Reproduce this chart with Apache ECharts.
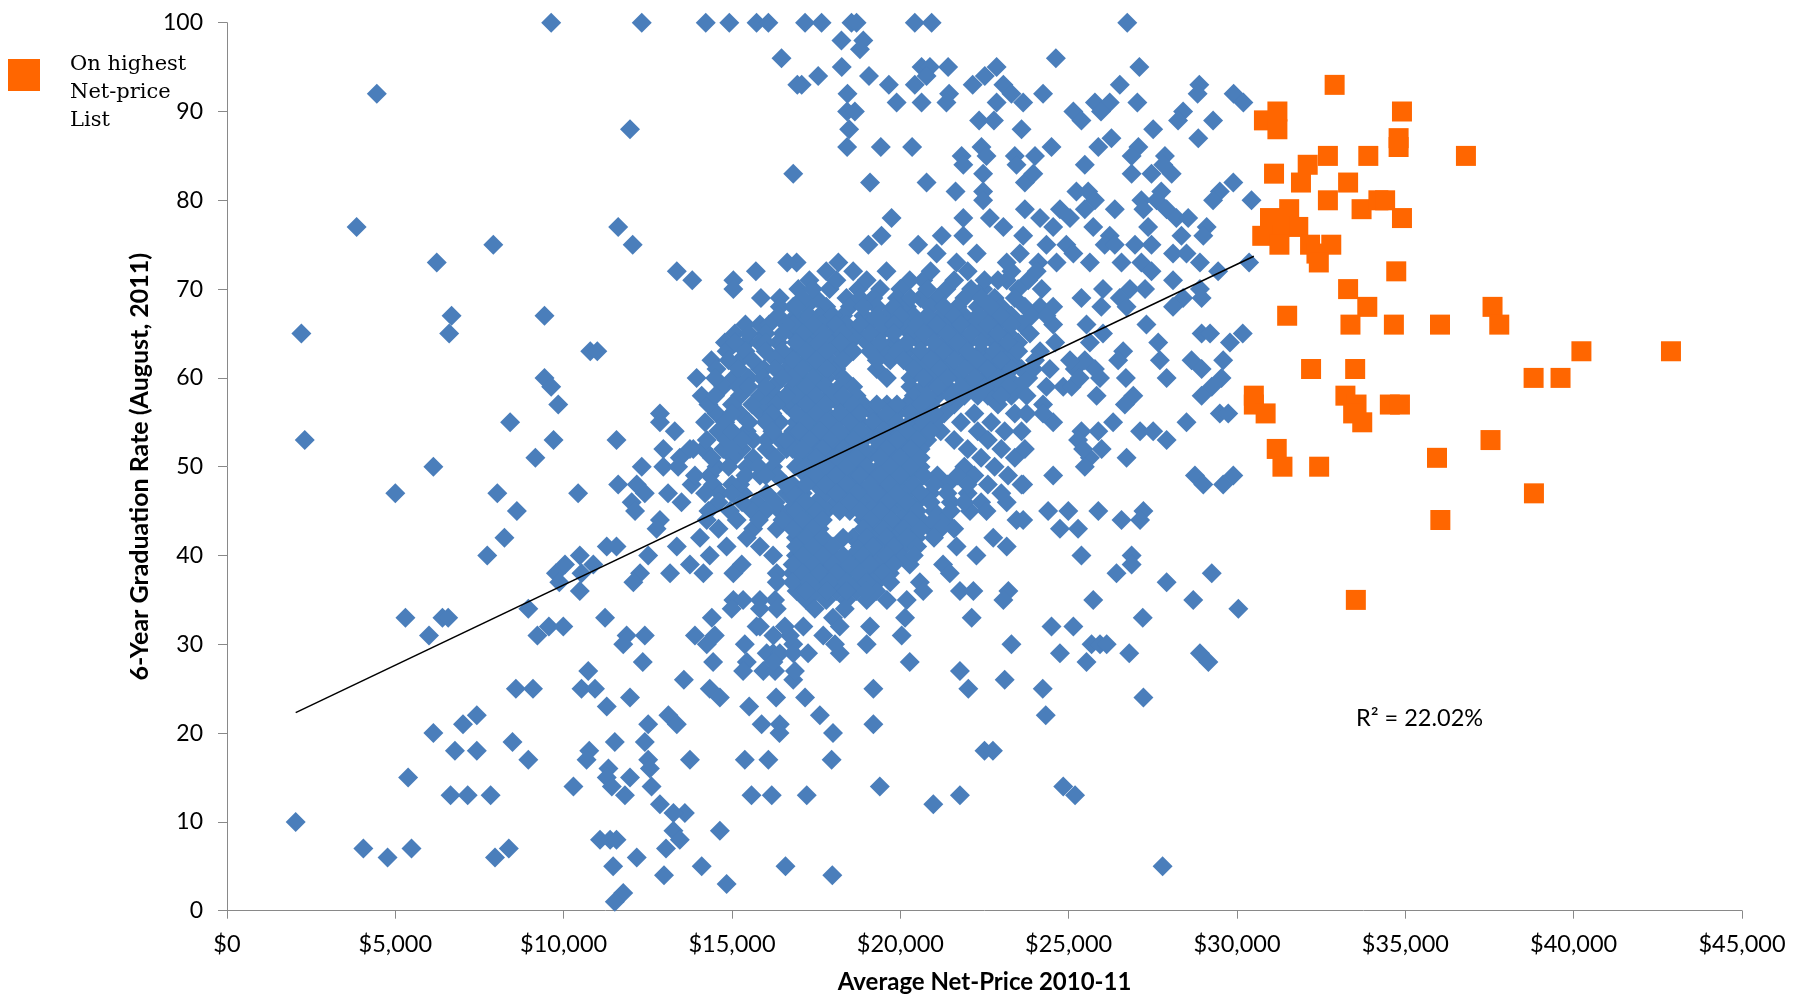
<!DOCTYPE html>
<html><head><meta charset="utf-8">
<script src="https://cdn.jsdelivr.net/npm/echarts/dist/echarts.min.js"></script>
<style>html,body{margin:0;padding:0;background:#fff;overflow:hidden}#c{width:100vw;height:100vh}</style>
</head><body><div id="c"></div>
<script>
// x values in thousands of dollars, y = 6-year graduation rate (%)
const xTicks = [0,5000,10000,15000,20000,25000,30000,35000,40000,45000];
const yTicks = [0,10,20,30,40,50,60,70,80,90,100];

const blueTop = [
[17.17,100],[17.66,100],[18.55,100],[18.7,100],[20.43,100],[20.93,100],[26.74,100],
[18.25,98],[18.9,98],[18.8,97],
[18.26,95],[17.56,94],[17.07,93],[19.07,94],[19.66,93],[18.43,92],[18.42,90],[18.65,90],[18.48,88],[18.42,86],[19.42,86],[20.35,86],[19.89,91],[20.43,93],[20.63,91],[20.63,95],[20.88,95],[20.78,94],[21.42,95],[21.45,92],[21.37,91],[22.15,93],[22.51,94],[22.86,95],[23.06,93],[23.3,92],[23.65,91],[22.86,91],[22.34,89],[22.78,89],[23.6,88],
[16.82,83],[19.1,82],[20.78,82],[21.64,81],[21.82,85],[21.87,84],[22.41,86],[22.56,85],[22.46,83],[22.46,81],[22.46,80],[23.4,85],[23.45,84],[23.7,82],
[19.74,78],[19.44,76],[19.05,75],[20.53,75],[21.23,76],[21.08,74],[21.87,78],[21.87,76],[21.67,73],[22.27,74],[22.66,78],[23.06,77],[23.65,76],[23.16,73],[23.55,74],[18.16,73],[16.92,73],[19.59,72],[16.97,70],[18.75,70],[20.28,71],[20.68,71],[21.37,70],[22.46,70],[23.16,71],
[24.62,96],[27.1,95],[26.52,93],[28.88,93],[28.83,92],[29.9,92],[30.19,91],[24.24,92],[25.78,91],[26.22,91],[27.04,91],[25.14,90],[25.38,89],[25.96,90],[28.4,90],[28.25,89],[29.29,89],[27.51,88],[28.85,87],[24.49,86],[25.88,86],[26.27,87],[27.07,86],[24.0,85],[25.48,84],[26.87,85],[27.86,85],[23.95,83],[26.87,83],[27.46,83],[28.06,83],[27.81,84],[29.49,81],[29.89,82],[29.29,80],[30.43,80],[25.23,81],[25.58,81],[25.78,80],[25.48,79],[27.16,80],[27.75,81],[27.61,80],[27.91,79],[26.37,79],[27.22,79],[28.2,78],[28.55,78],[25.73,77],[27.36,77],[29.1,77],[29.0,76],
[23.7,79],[24.15,78],[24.74,79],[25.04,78],[24.54,77],[24.34,75],[24.93,75],[25.14,74],[26.22,76],[26.07,75],[26.37,75],[26.97,75],[27.46,75],[28.35,76],[28.1,74],[28.5,74],[28.9,73],[29.44,72],[30.36,73],[25.63,73],[26.57,73],[27.16,73],[27.46,72],[24.64,73],[24.1,73],[24.05,72],[26.02,70],[26.82,70],[27.27,70],[25.38,69],[25.97,68],[26.52,69],[26.72,68],[24.2,70],[24.15,68],[24.54,68],[28.1,71],[28.4,69],[28.9,70],[28.95,69],[28.1,68]
];

const blueUpperLeft = [
[9.63,100],[12.32,100],[14.22,100],[14.92,100],[15.73,100],[16.08,100],[4.45,92],[16.47,96],[16.94,93],[11.97,88],[3.85,77],[11.62,77],[12.05,75],[7.91,75],[6.23,73],[13.36,72],[13.82,71],[15.04,71],[15.04,70],[15.71,72],[16.64,73],[15.86,69],[16.42,69],[16.42,68],[16.82,68]
];

const blueLeft = [
[2.21,65],[2.31,53],[2.04,10],[4.05,7],[4.77,6],[5.0,47],[5.3,33],[5.38,15],[5.48,7],[6.0,31],[6.13,20],[6.13,50],[6.4,33],[6.57,33],[6.67,67],[6.6,65],[6.77,18],[6.64,13],[7.01,21],[7.15,13],[7.42,22],[7.42,18],[7.73,40],[7.83,13],[7.96,6],[8.03,47],[8.24,42],[8.37,7],[8.41,55],[8.48,19],[8.58,25],[8.61,45],[8.95,34],[8.95,17],[9.09,25],[9.16,51],[9.22,31],[9.43,60],[9.43,67],[9.56,32],[9.63,59],[9.7,53],[9.84,57],[9.77,38],[9.87,37]
];

const blueMidLeft = [
[10.79,63],[11.0,63],[11.57,53],
[15.83,66],[16.37,67],[15.09,65],[14.79,64],[14.84,63],[15.24,62],[14.39,62],[14.54,61],[13.95,60],[15.04,60],[15.95,61],[16.37,64],[16.72,62],[14.1,58],[14.74,59],[15.24,58],[15.83,58],[16.28,58],[12.86,56],[12.86,55],[14.2,55],[14.54,56],[14.59,54],[15.24,56],[15.44,54],[15.88,56],[16.42,55],[16.72,57],[16.82,54],
[12.96,52],[13.45,51],[13.85,52],[14.15,52],[14.74,52],[15.29,52],[15.63,51],[16.03,52],[16.62,52],[12.32,50],[12.96,50],[13.4,50],[15.44,50],[16.22,50],[11.62,48],[12.17,48],[13.8,48],[14.34,49],[14.44,48],[12.41,47],[12.02,46],[12.12,45],[14.64,47],[15.33,47],[15.73,46],[16.03,47],[16.62,47],[10.43,47],[14.94,45],[16.42,45],[12.86,44],[12.76,43],[14.25,44],[15.14,44],[15.63,43],[16.33,43],[11.28,41],[11.57,41],[12.51,40],[13.36,41],[14.05,42],[14.34,40],[14.84,41],[15.44,42],[15.83,41],[16.22,40],[10.48,40],[10.88,39],[10.04,39],[10.53,38],[10.48,36],[12.27,38],[12.07,37],[13.16,38],[13.75,39],[14.15,38],[15.04,38],[15.29,39],[16.33,38],[16.33,37],[15.04,35],[15.33,35],[15.83,35],[16.28,35],
[15.43,64],[15.83,61],[16.23,59],[16.62,61],[16.82,59],[15.63,53],[16.03,53],[16.42,53],[15.04,51],[14.84,53],[14.25,53],[13.75,52],[15.24,48],[15.83,49],[16.33,49],[14.54,50],[16.62,57],[16.03,57],[15.5,60],[14.3,57],[13.3,54],[13.9,49],[15.6,45],[16.7,45],[14.6,43],[13.5,46],[13.1,47]
];

const coreRows = [
[72,[17.8,18.6,20.9,22.0,23.3]],
[71,[17.3,19.0,21.6,22.5,23.8]],
[70,[17.9,19.4,20.0,22.1,23.5]],
[69,[17.5,18.4,19.2,19.9,20.6,21.1,21.9,22.8,23.4]],
[68,[17.2,17.8,18.5,19.3,20.2,20.9,21.7,22.3,23.0,23.7]],
[67,[16.9,17.6,18.3,18.9,19.6,20.4,21.2,21.9,22.6,23.3,23.9]],
[66,[17.1,17.7,18.4,19.1,20.1,20.8,21.4,22.2,22.9,23.6]],
[65,[16.8,17.4,18.0,18.7,19.4,20.3,21.0,21.7,22.5,23.2]],
[64,[17.2,17.9,18.5,19.0,19.8,20.6,21.3,22.0,22.8,23.5]],
[63,[16.9,17.5,18.2,19.5,20.2,21.0,21.6,22.4,23.1]],
[62,[17.2,17.9,19.7,20.5,21.2,21.9,22.6,23.3]],
[61,[16.8,17.5,18.1,19.3,20.8,21.5,22.2,22.9,23.6]],
[60,[17.1,17.8,18.3,19.6,20.3,21.0,21.8,22.5,23.2]],
[59,[16.9,17.5,18.6,20.3,20.7,21.4,22.1,22.8,23.5]],
[58,[17.2,17.9,18.7,20.4,21.1,21.9,22.6,23.3]],
[57,[16.8,17.5,18.2,18.9,19.6,20.2,20.9,21.6,22.9]],
[56,[17.2,17.8,18.5,19.2,19.9,20.6,21.3,22.2,23.4]],
[55,[16.9,17.5,18.1,18.8,19.5,20.3,21.0,21.8,22.7]],
[54,[17.3,17.9,18.5,19.1,19.8,20.5,21.2,22.3,23.1]],
[53,[17.0,17.6,18.3,18.9,19.6,20.2,20.8,21.6,22.6]],
[52,[16.8,17.4,18.0,18.6,19.3,19.9,20.6,22.0,23.0]],
[51,[17.1,17.8,18.4,19.0,19.7,20.3,22.4,23.4]],
[50,[16.9,17.5,18.1,18.7,19.4,20.0,20.6,21.9,22.8]],
[49,[17.2,17.8,18.4,19.1,19.7,20.3,21.1,22.2,23.2]],
[48,[16.8,17.5,18.1,18.7,19.4,20.0,21.4,22.6,23.65]],
[47,[17.1,17.8,18.4,19.0,19.6,20.2,20.9,22.0,23.0]],
[46,[16.9,17.5,18.1,18.8,19.3,19.9,20.5,21.5,22.4,23.16]],
[45,[17.2,17.8,18.5,19.1,19.7,20.1,21.0,22.07,22.56]],
[44,[16.8,17.4,18.9,19.4,20.0,20.6,21.3,23.45]],
[43,[17.1,17.6,19.2,19.8,20.3,20.9,21.6]],
[42,[16.9,17.4,18.6,19.29,19.9,20.48,22.76]],
[41,[17.2,17.7,18.8,19.5,20.1,21.67,23.16]],
[40,[16.9,17.4,18.0,18.6,19.2,19.99,22.26]],
[39,[17.1,17.7,18.2,18.8,19.4,20.28,21.27]],
[38,[16.8,17.31,17.81,18.4,19.2,19.69,21.47]],
[37,[17.0,17.6,18.1,18.7,19.3,20.58]],
[36,[16.92,17.5,18.1,18.7,19.29,20.68,21.77,22.17,23.21]],
[35,[17.2,17.8,18.4,19.0,19.6,20.19,23.06]]
];

const coreFillRows = [
[71,[18.1,22.9]],
[70,[17.4,20.8]],
[69,[17.1,18.8,20.3,22.4]],
[68,[16.9,18.9,19.8,21.3,22.7]],
[67,[17.3,18.0,19.3,20.0,20.8,21.6,22.3,23.0]],
[66,[16.8,17.4,18.1,18.8,19.5,19.8,20.5,21.1,21.8,22.6,23.3]],
[65,[17.1,17.7,18.3,19.1,19.8,20.7,21.4,22.1,22.9]],
[64,[16.9,17.6,18.2,19.4,20.2,21.0,21.7,22.4,23.2]],
[63,[17.2,17.8,18.6,19.1,19.9,20.6,21.3,22.0,22.8,23.5]],
[62,[16.8,17.5,18.3,19.3,20.1,20.9,21.6,22.3,23.0]],
[61,[17.1,17.8,20.4,21.2,21.9,22.6,23.3]],
[60,[16.8,17.4,20.7,21.4,22.2,22.9]],
[59,[17.2,17.8,18.2,21.1,21.8,22.5,23.2]],
[58,[16.9,17.5,18.3,20.8,21.5,22.3,23.0]],
[57,[17.2,17.8,18.6,19.3,19.9,20.6]],
[56,[16.9,17.5,18.2,18.8,19.6,20.3,21.0]],
[55,[17.2,17.8,18.5,19.2,19.9,20.7]],
[54,[17.0,17.6,18.2,18.8,19.5,20.2,20.9]],
[53,[17.3,17.9,18.6,19.3,19.9,20.5]],
[52,[17.1,17.7,18.3,18.9,19.6,20.3]],
[51,[17.5,18.1,18.7,19.4,20.0,20.6]],
[50,[17.2,17.8,18.4,19.0,19.7,20.3]],
[49,[17.5,18.1,18.8,19.4,20.0,20.7,21.7]],
[48,[17.2,17.8,18.4,19.1,19.7,20.4,21.0,22.0]],
[47,[16.8,18.1,18.7,19.3,19.9,20.6,21.4]],
[46,[17.2,18.5,19.6,20.2,20.9,21.9]],
[45,[16.9,17.5,18.2,18.8,19.4,20.5,21.5]],
[44,[17.1,17.7,19.1,19.7,20.3,21.0]],
[43,[16.8,17.4,18.9,19.5,20.1,20.6,21.2]],
[42,[17.2,17.7,18.3,19.0,19.6,20.2,21.0]],
[41,[16.9,17.4,18.0,19.2,19.8,20.5]],
[40,[17.1,17.7,18.3,18.9,19.6,20.4]],
[39,[16.8,17.4,18.0,18.5,19.1,19.8]],
[38,[17.1,17.6,18.1,18.8,19.5]],
[37,[16.8,17.3,17.9,18.4,19.0,19.7]],
[36,[17.2,17.8,18.4,19.0]]
];

const leftFillRows = [
[66,[15.4,16.1,16.6]],
[65,[15.5,16.0,16.5]],
[64,[15.1,15.8,16.0]],
[63,[15.4,16.0,16.5]],
[62,[14.9,15.6,16.3]],
[61,[15.2,16.3]],
[60,[14.5,15.9,16.5]],
[59,[15.2,15.5,16.0]],
[58,[14.5,16.6]],
[57,[15.0,15.6,16.3]],
[56,[15.0,16.2]],
[55,[14.8,15.5,16.0]],
[54,[15.0,16.2]],
[53,[15.3,16.6]],
[52,[15.0]],
[51,[14.4,16.3]],
[50,[14.9,15.8]],
[49,[15.4,16.0]],
[48,[15.0,16.6]],
[47,[14.2,15.0]],
[46,[14.6,15.3,16.3]],
[45,[14.3,16.0]],
[44,[15.8,16.5]]
];

const blueMidRight = [
[27.31,66],[28.95,65],[29.2,65],[30.17,65],[29.79,64],[27.66,64],[27.71,62],[26.62,63],[26.47,62],[28.65,62],[28.95,61],[29.59,62],[29.54,60],[29.25,59],[28.95,58],[27.91,60],[26.7,60],[26.92,58],[26.67,57],[25.83,58],[25.78,61],[25.93,60],[25.48,62],[25.18,61],[25.63,64],[26.02,65],[25.53,66],[24.54,66],[23.85,65],[24.15,63],[24.44,61],[24.34,59],[24.84,59],[25.09,59],[23.8,60],[23.75,58],[24.24,57],[24.54,55],[24.24,56],[29.49,56],[29.74,56],[28.5,55],[26.32,55],[27.12,54],[27.51,54],[27.91,53],[25.38,54],[25.28,53],[25.88,54],[25.98,52],[25.63,51],[25.48,50],[26.72,51],[23.7,52],[23.6,54],[24.54,49],[28.75,49],[29.0,48],[29.59,48],[29.89,49],[23.6,48],[23.65,44],[24.39,45],[24.99,45],[24.74,43],[25.28,43],[25.88,45],[26.57,44],[27.22,45],[27.12,44],[25.38,40],[26.87,40],[26.87,39],[26.42,38],[27.91,37],[29.25,38],[28.7,35],[25.73,35],[30.04,34],
[24.34,67],[23.95,61],[23.75,56],[24.0,62],[24.6,64],[25.04,62],[25.33,60],[25.43,52]
];

const blueLowLeft = [
[9.99,32],[11.23,33],[11.87,31],[12.41,31],[11.77,30],[12.35,28],[10.73,27],[10.53,25],[10.93,25],[11.28,23],[11.97,24],[13.11,22],[13.36,21],[12.51,21],[11.52,19],[12.41,19],[10.76,18],[10.68,17],[12.51,17],[13.75,17],[11.33,16],[12.56,16],[11.28,15],[11.97,15],[11.43,14],[12.61,14],[10.29,14],[11.82,13],[12.86,12],[13.6,11],[13.26,11],[13.26,9],[13.45,8],[13.04,7],[14.64,9],[11.08,8],[11.38,8],[11.57,8],[12.17,6],[11.47,5],[12.98,4],[14.1,5],[14.84,3],[11.77,2],[11.52,1],[16.59,5],[15.38,17],[16.08,17],[15.58,13],[16.18,13],[15.51,23],[15.88,21],[16.42,21],[16.41,20],[16.31,24],[15.38,30],[15.44,28],[15.33,27],[14.34,25],[14.64,24],[13.57,26],[14.44,28],[14.4,33],[13.9,31],[14.25,30],[14.49,31],[14.99,34],[15.83,34],[16.33,34],[15.73,32],[16.22,29],[15.93,27],[16.28,27],[16.72,31],[16.57,32],
[15.83,32],[16.23,31],[16.82,30],[16.03,29],[16.42,29],[16.23,28],[16.82,26]
];

const blueLowMid = [
[17.46,34],[18.0,33],[18.2,32],[17.71,31],[17.12,32],[16.82,29],[17.26,29],[18.06,30],[18.2,29],[16.87,27],[18.35,34],[19.1,32],[19.0,30],[20.14,33],[20.04,31],[20.28,28],[22.12,33],[23.3,30],[21.77,27],[22.02,25],[23.1,26],[19.2,25],[17.17,24],[17.61,22],[18.0,20],[19.2,21],[22.5,18],[22.75,18],[17.96,17],[19.39,14],[17.22,13],[20.98,12],[21.77,13],[17.98,4]
];

const blueLowRight = [
[24.49,32],[25.14,32],[27.2,33],[24.74,29],[25.68,30],[25.93,30],[26.13,30],[25.53,28],[26.8,29],[28.9,29],[29.15,28],[24.23,25],[24.32,22],[27.22,24],[24.84,14],[25.19,13],[27.79,5]
];

const orangeList = [
[32.9,93],[31.2,90],[30.8,89],[31.2,88],[34.9,90],[34.8,87],[34.8,86],[36.8,85],[32.7,85],[33.9,85],[31.1,83],[32.1,84],[31.9,82],[33.3,82],[32.7,80],[33.7,79],[34.2,80],[34.4,80],[34.9,78],[31.55,79],[30.98,78],[31.82,77],[31.27,77],[30.75,76],[31.26,75],[32.17,75],[32.8,75],[32.36,74],[32.43,73],[34.73,72],[33.3,70],[33.87,68],[31.49,67],[37.59,68],[33.37,66],[34.66,66],[36.03,66],[37.79,66],[40.23,63],[42.89,63],[38.81,60],[39.61,60],[32.2,61],[33.51,61],[30.5,58],[30.5,57],[30.85,56],[33.22,58],[33.55,57],[33.45,56],[33.72,55],[34.54,57],[34.84,57],[31.18,52],[31.35,50],[32.44,50],[37.53,53],[35.94,51],[38.82,47],[36.04,44],[33.53,35]
];

const trendX = [2040, 30500];
const trendY = [22.3, 73.7];
const r2Label = 'R² = 22.02%';
const legendLines = ['On highest', 'Net-price', 'List'];

const toDollars = arr => arr.map(p => [Math.round(p[0]*1000), p[1]]);
const flattenRows = rows => { const out = []; rows.forEach(r => r[1].forEach(x => out.push([x, r[0]]))); return out; };
const blueAll = toDollars([].concat(blueTop, blueUpperLeft, blueLeft, blueMidLeft, flattenRows(coreRows), flattenRows(coreFillRows), flattenRows(leftFillRows), blueMidRight, blueLowLeft, blueLowMid, blueLowRight));
const orangeAll = toDollars(orangeList);
const trendData = trendX.map((x, i) => [x, trendY[i]]);

const el = document.getElementById('c');
const H = el.clientHeight || 1001;
const axisBottomY = 910.7; // pixel row of the x axis in the 1001-high picture
const FONT = 'Lato, "Liberation Sans", sans-serif';
const chart = echarts.init(el, null, {renderer: 'canvas'});
chart.setOption({
  animation: false,
  backgroundColor: '#ffffff',
  grid: {left: 227, right: 55, top: 22.7, bottom: H - axisBottomY, containLabel: false},
  xAxis: {
    type: 'value', min: xTicks[0], max: xTicks[xTicks.length-1], interval: xTicks[1]-xTicks[0],
    axisLine: {show: true, lineStyle: {color: '#898989', width: 1}},
    axisTick: {show: true, length: 8, lineStyle: {color: '#898989'}},
    splitLine: {show: false},
    axisLabel: {margin: 22, fontSize: 23.5, color: '#000', fontFamily: FONT,
      formatter: v => '$' + Number(v).toLocaleString('en-US')},
    name: 'Average Net-Price 2010-11', nameLocation: 'middle', nameGap: 60,
    nameTextStyle: {fontSize: 24, fontWeight: 'bold', color: '#000', fontFamily: FONT}
  },
  yAxis: {
    type: 'value', min: yTicks[0], max: yTicks[yTicks.length-1], interval: yTicks[1]-yTicks[0],
    axisLine: {show: true, lineStyle: {color: '#898989', width: 1}},
    axisTick: {show: true, length: 9, lineStyle: {color: '#898989'}},
    splitLine: {show: false},
    axisLabel: {margin: 24, fontSize: 23, color: '#000', fontFamily: FONT},
    name: '6-Year Graduation Rate (August, 2011)', nameLocation: 'middle', nameGap: 72, nameRotate: 90,
    nameTextStyle: {fontSize: 25, fontWeight: 'bold', color: '#000', fontFamily: FONT}
  },
  series: [
    {type: 'scatter', name: 'All', data: blueAll, symbol: 'diamond', symbolSize: 20,
     itemStyle: {color: '#4A7EBB', opacity: 1}, z: 2},
    {type: 'scatter', name: 'On highest Net-price List', data: orangeAll, symbol: 'rect', symbolSize: 20,
     itemStyle: {color: '#FF6600', opacity: 1}, z: 3},
    {type: 'line', name: 'Trend', data: trendData, showSymbol: false, symbol: 'none',
     lineStyle: {color: '#000', width: 1.5}, z: 4, silent: true}
  ],
  graphic: [
    {type: 'rect', left: 8, top: 59, shape: {width: 32, height: 32}, style: {fill: '#FF6600'}},
    {type: 'text', left: 70, top: 50, style: {text: legendLines.join('\n'), fontSize: 21, lineHeight: 28.3,
      fontFamily: '"DejaVu Serif", "Liberation Serif", serif', fill: '#000'}},
    {type: 'text', left: 1356, top: 706, style: {text: r2Label, fontSize: 23.5, fontFamily: FONT, fill: '#000'}}
  ]
});
</script>
</body></html>
